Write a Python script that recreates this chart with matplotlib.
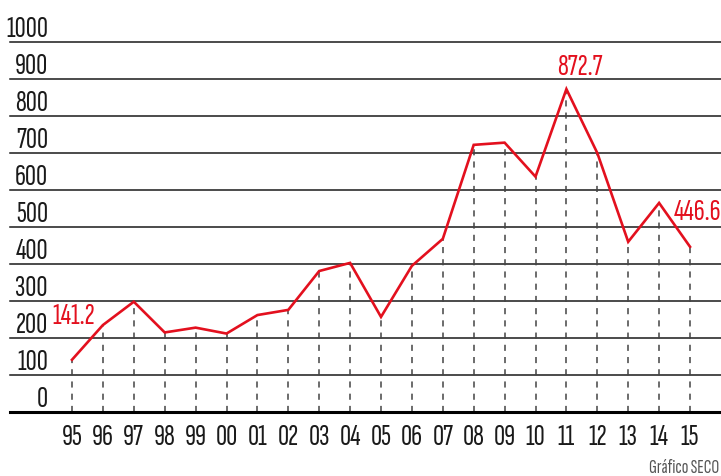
import matplotlib
matplotlib.use("Agg")
import matplotlib.pyplot as plt

years = ["95", "96", "97", "98", "99", "00", "01", "02", "03", "04",
         "05", "06", "07", "08", "09", "10", "11", "12", "13", "14", "15"]
values = [141.2, 235, 298, 215, 228, 212, 262, 276, 381, 403,
          257, 395, 468, 722, 728, 636, 872.7, 700, 460, 565, 446.6]
y_ticks = [0, 100, 200, 300, 400, 500, 600, 700, 800, 900, 1000]
labelled = {0: "141.2", 16: "872.7", 20: "446.6"}

RED = "#e3101e"
FONT = ["Sofia Sans Extra Condensed", "Saira ExtraCondensed", "DejaVu Sans"]
plt.rcParams["font.family"] = FONT

fig = plt.figure(figsize=(7.21, 4.77), dpi=100)
ax = fig.add_axes([10 / 721, 64 / 477, 711 / 721, 370 / 477])
step = 30.9
ax.set_xlim((10 - 72) / step, (721 - 72) / step)
ax.set_ylim(0, 1000)
ax.axis("off")

# grid lines
for v in y_ticks[1:]:
    ax.axhline(v, color="#1a1a1a", lw=1.1, clip_on=False, zorder=1)
ax.axhline(0, color="black", lw=2.2, clip_on=False, zorder=3)

xs = list(range(len(years)))

# dashed drop lines
for x, v in zip(xs, values):
    ax.plot([x, x], [0, v], color="#444444", lw=1.1, ls=(0, (4, 4)), zorder=2)

ax.plot(xs, values, color=RED, lw=1.9, zorder=4, solid_joinstyle="miter")

# y labels, sitting above their grid lines
lab_x = (48 - 72) / step
for v in y_ticks:
    ax.text(lab_x, v + 1, str(v), ha="right", va="bottom", fontsize=22,
            color="#1a1a1a", clip_on=False)

# x labels
for x, y in zip(xs, years):
    ax.text(x, -65, y, ha="center", va="center", fontsize=22,
            color="#1a1a1a", clip_on=False)

# value annotations
ax.text(0.07, 262, labelled[0], ha="center", va="center", fontsize=22, color=RED)
ax.text(16.44, 935, labelled[16], ha="center", va="center", fontsize=22, color=RED)
ax.text(20.25, 543, labelled[20], ha="center", va="center", fontsize=22, color=RED)

fig.text(719 / 721, 9 / 477, "Gráfico SECO", ha="right", va="center",
         fontsize=14, color="#555555")

fig.savefig("out.png", dpi=100)
